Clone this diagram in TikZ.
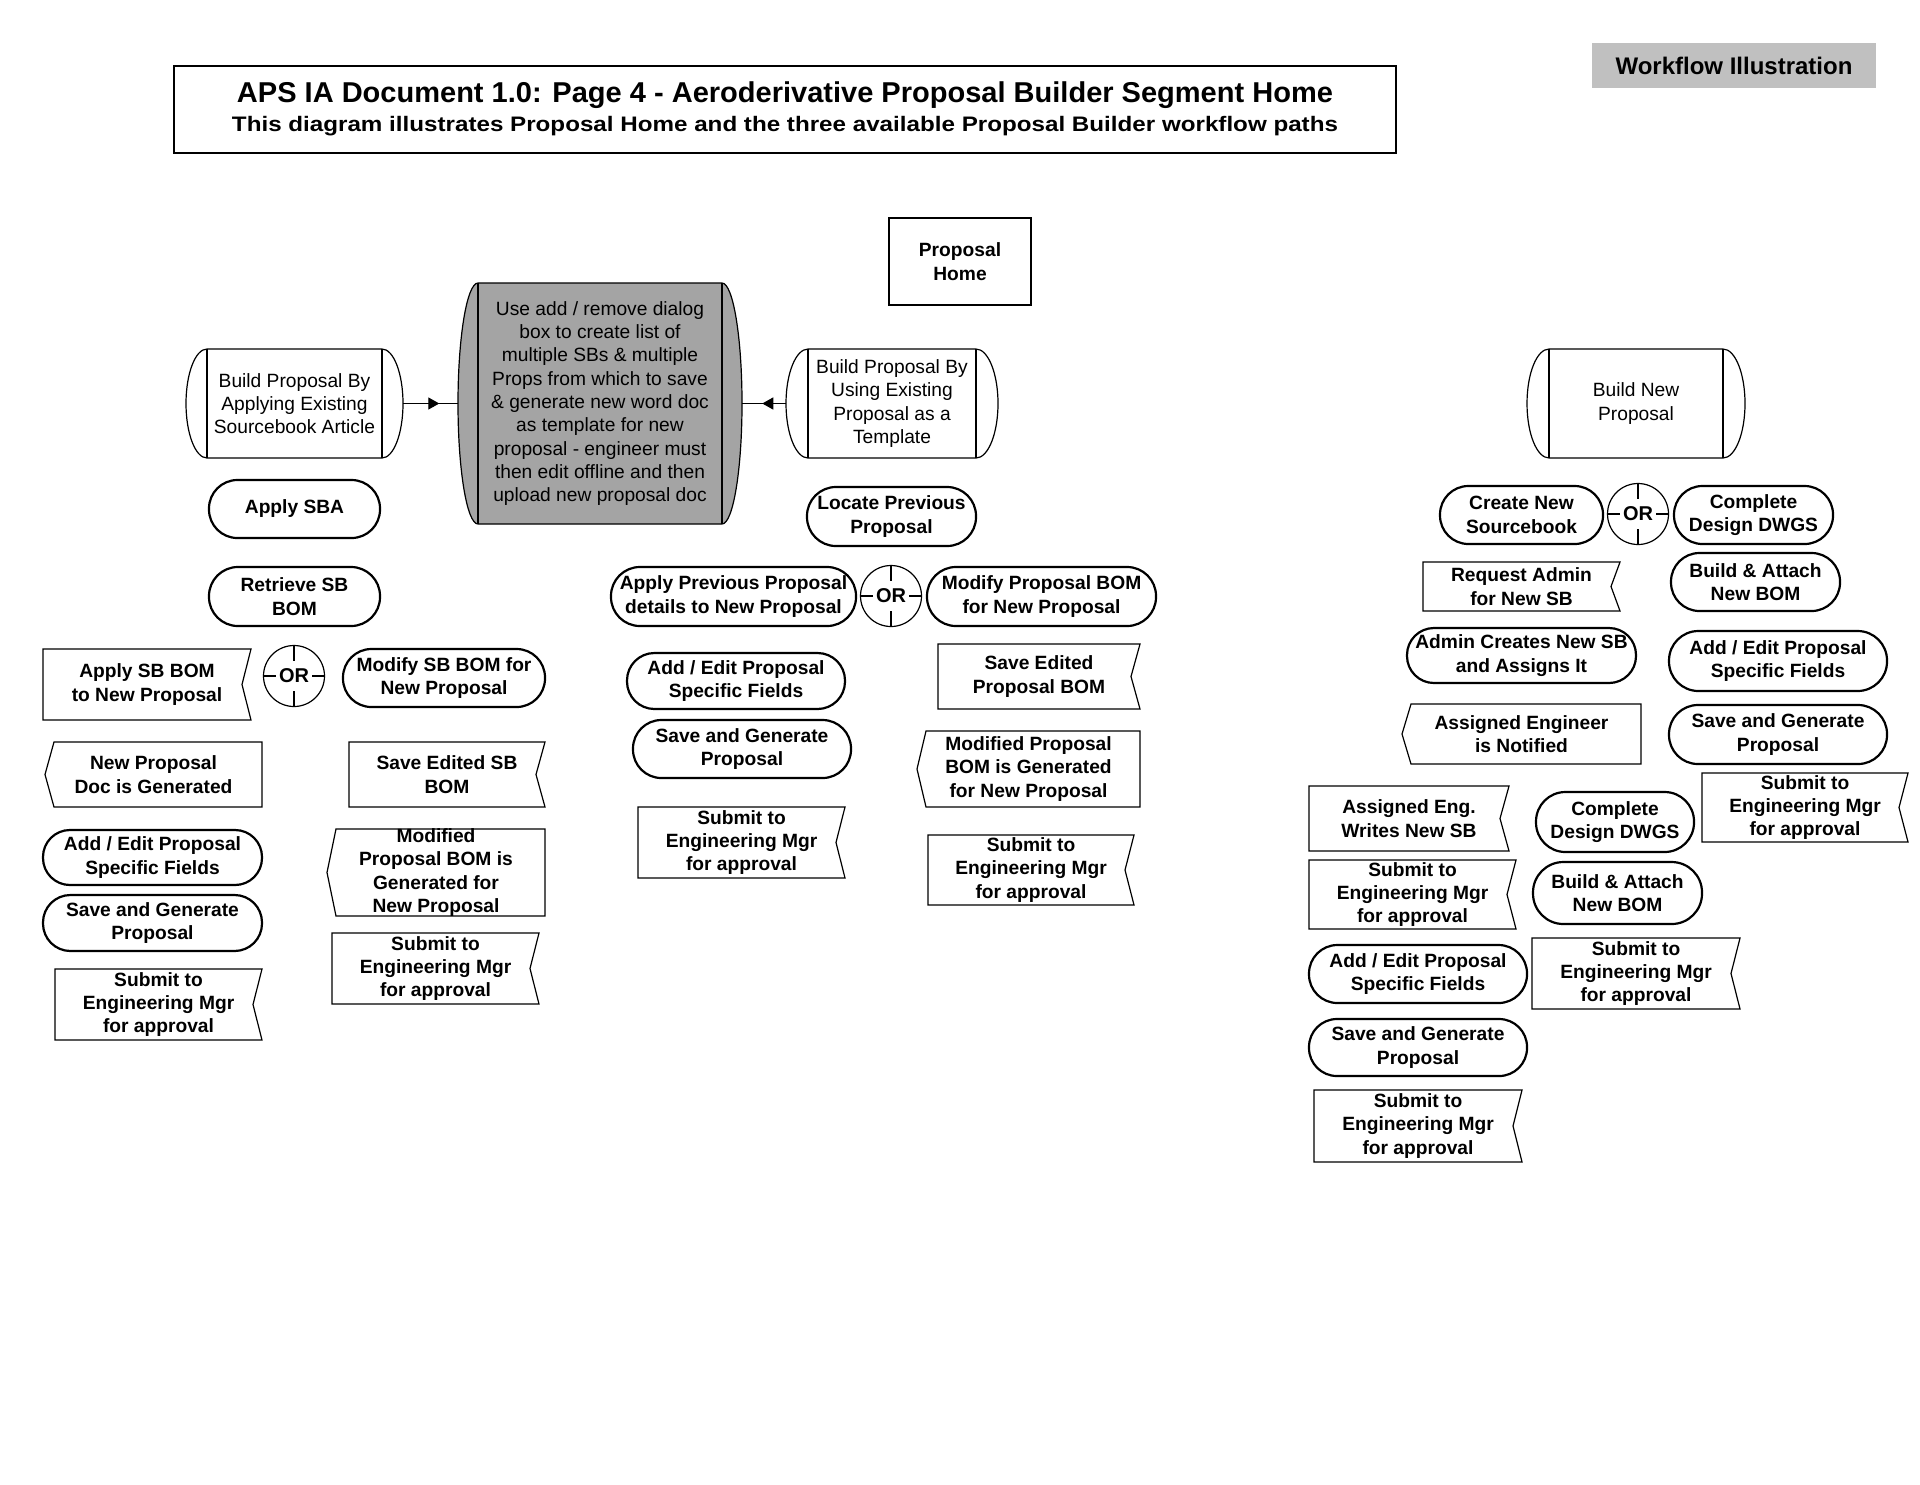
\documentclass[tikz,border=0pt]{standalone}
\usepackage{fontspec}
\setmainfont{Liberation Sans}
\usepackage{graphicx}
\usetikzlibrary{arrows.meta,decorations.markings}
\definecolor{wfgray}{HTML}{C0C0C0}
\definecolor{boxgray}{HTML}{A4A4A4}
\tikzset{
  txt/.style={inner sep=0pt, outer sep=0pt, align=center, font=\fontsize{9.6pt}{11.65pt}\selectfont\bfseries},
  txtr/.style={inner sep=0pt, outer sep=0pt, align=center, font=\fontsize{9.6pt}{11.65pt}\selectfont},
  thinline/.style={line width=0.6pt, draw=black},
  thickline/.style={line width=1.1pt, draw=black},
  midarrow/.style={postaction={decorate, decoration={markings, mark=at position #1 with {\arrow{Triangle[length=5.5pt,width=6pt]}}}}},
}
% stadium: name x1 y1 x2 y2 text
\newcommand\stad[6]{%
  \pgfmathsetmacro\Srad{(#5-#3)*0.245}%
  \draw[thickline, rounded corners=\Srad pt] (#2,#3) rectangle (#4,#5);
  \node[txt] (#1) at ({(#2+#4)/2},{(#3+#5)/2}) {#6};}
% flag with notch on right
\newcommand\flagR[6]{%
  \draw[thinline] (#2,#3) -- (#4,#3) -- (#4-9,{(#3+#5)/2}) -- (#4,#5) -- (#2,#5) -- cycle;
  \node[txt] (#1) at ({(#2+#4)/2},{(#3+#5)/2}) {#6};}
% flag with point on left
\newcommand\flagL[6]{%
  \draw[thinline] (#2+9,#3) -- (#4,#3) -- (#4,#5) -- (#2+9,#5) -- (#2,{(#3+#5)/2}) -- cycle;
  \node[txt] (#1) at ({(#2+#4)/2},{(#3+#5)/2}) {#6};}
% drum: name x1 y1 x2 y2 bulge fill text
\newcommand\drum[8]{%
  \pgfmathsetmacro\Dry{(#5-#3)*0.25}%
  \pgfmathsetmacro\Drx{#6*0.5}%
  \filldraw[thinline, fill=#7] (#2+#6,#3) -- (#4-#6,#3)
     arc[start angle=90, end angle=-90, x radius=\Drx pt, y radius=\Dry pt]
     -- (#2+#6,#5)
     arc[start angle=270, end angle=90, x radius=\Drx pt, y radius=\Dry pt] -- cycle;
  \draw[thinline] (#2+#6,#3) -- (#2+#6,#5) (#4-#6,#3) -- (#4-#6,#5);
  \node[txtr, minimum width={(#4-#2)*0.5pt}, minimum height={(#5-#3)*0.5pt}] (#1) at ({(#2+#4)/2},{(#3+#5)/2}) {#8};}
% OR circle
\newcommand\orc[3]{%
  \node[circle, thinline, draw, minimum size=30.5pt, inner sep=0pt, font=\fontsize{10pt}{12pt}\selectfont\bfseries] (#1) at (#2,#3) {OR};
  \draw[thinline] (#1.north) -- ++(0,16) (#1.south) -- ++(0,-16) (#1.west) -- ++(13,0) (#1.east) -- ++(-13,0);}
\newcommand\subtxt{Submit to\\Engineering Mgr\\for approval}

\begin{document}
\begin{tikzpicture}[x=0.5pt, y=-0.5pt]
\useasboundingbox (0,0) rectangle (1920,1484);
\fill[white] (0,0) rectangle (1920,1484);

% title
\node[draw, line width=0.8pt, minimum width=611pt, minimum height=43.5pt, inner sep=0pt] (titlebox) at (785,109.5) {};
\node[inner sep=0pt] (title1) at (785,95) {\resizebox{548pt}{10.4pt}{\bfseries APS IA Document 1.0: Page 4 - Aeroderivative Proposal Builder Segment Home}};
\node[inner sep=0pt] (title2) at (785,126) {\resizebox{553pt}{7.6pt}{\bfseries This diagram illustrates Proposal Home and the three available Proposal Builder workflow paths}};
\node[fill=wfgray, minimum width=142pt, minimum height=22.5pt, inner sep=0pt, font=\fontsize{12pt}{14pt}\selectfont\bfseries] (wf) at (1734,65.5) {Workflow Illustration};

% proposal home
\node[txt, thinline, draw, minimum width=71pt, minimum height=43.5pt] (home) at (960,261.5) {Proposal\\Home};

% drums
\drum{applyart}{186}{349}{403}{458}{21}{white}{Build Proposal By\\Applying Existing\\Sourcebook Article}
\drum{gray}{458}{283}{742}{524}{20}{boxgray}{Use add / remove dialog\\box to create list of\\multiple SBs \& multiple\\Props from which to save\\\& generate new word doc\\as template for new\\proposal - engineer must\\then edit offline and then\\upload new proposal doc}
\drum{useprop}{786}{349}{998}{458}{22}{white}{Build Proposal By\\Using Existing\\Proposal as a\\Template}
\drum{buildnew}{1527}{349}{1745}{458}{22}{white}{Build New\\Proposal}

\draw[thinline, midarrow=0.66] (applyart) -- (gray);
\draw[thinline, midarrow=0.54] (useprop) -- (gray);

% left column
\stad{apsba}{209}{480}{380}{538}{Apply SBA}
\stad{retsb}{209}{567}{380}{626}{Retrieve SB\\BOM}
\flagR{applysb}{43}{649}{251}{720}{Apply SB BOM\\to New Proposal}
\orc{orA}{294}{676}
\stad{modsb}{343}{649}{545}{707}{Modify SB BOM for\\New Proposal}
\flagL{newdoc}{45}{742}{262}{807}{New Proposal\\Doc is Generated}
\flagR{savesb}{349}{742}{545}{807}{Save Edited SB\\BOM}
\stad{addl}{43}{830}{262}{885}{Add / Edit Proposal\\Specific Fields}
\flagL{modgenl}{327}{829}{545}{916}{Modified\\Proposal BOM is\\Generated for\\New Proposal}
\stad{savel}{43}{895}{262}{951}{Save and Generate\\Proposal}
\flagR{subla}{55}{969}{262}{1040}{\subtxt}
\flagR{sublb}{332}{933}{539}{1004}{\subtxt}

% middle column
\stad{locprev}{807}{487}{976}{546}{Locate Previous\\Proposal}
\stad{appprev}{611}{567}{856}{626}{Apply Previous Proposal\\details to New Proposal}
\orc{orB}{891}{596}
\stad{modprop}{927}{567}{1156}{626}{Modify Proposal BOM\\for New Proposal}
\stad{addm}{627}{653}{845}{709}{Add / Edit Proposal\\Specific Fields}
\flagR{saveprop}{938}{644}{1140}{709}{Save Edited\\Proposal BOM}
\stad{savem}{633}{720}{851}{778}{Save and Generate\\Proposal}
\flagL{modgenm}{917}{731}{1140}{807}{Modified Proposal\\BOM is Generated\\for New Proposal}
\flagR{subma}{638}{807}{845}{878}{\subtxt}
\flagR{submb}{928}{835}{1134}{905}{\subtxt}

% right section
\stad{createsb}{1440}{486}{1603}{544}{Create New\\Sourcebook}
\orc{orC}{1638}{514}
\stad{dwgsa}{1674}{486}{1833}{544}{Complete\\Design DWGS}
\flagR{reqadmin}{1423}{562}{1620}{611}{Request Admin\\for New SB}
\stad{boma}{1671}{553}{1840}{611}{Build \& Attach\\New BOM}
\stad{admin}{1407}{628}{1636}{683}{Admin Creates New SB\\and Assigns It}
\stad{addr}{1669}{631}{1887}{691}{Add / Edit Proposal\\Specific Fields}
\flagL{notified}{1402}{704}{1641}{764}{Assigned Engineer\\is Notified}
\stad{saver}{1669}{705}{1887}{764}{Save and Generate\\Proposal}
\flagR{subra}{1702}{773}{1908}{842}{\subtxt}
\flagR{writes}{1309}{786}{1509}{851}{Assigned Eng.\\Writes New SB}
\stad{dwgsb}{1536}{792}{1694}{852}{Complete\\Design DWGS}
\flagR{subrb}{1309}{860}{1516}{929}{\subtxt}
\stad{bomb}{1533}{862}{1702}{924}{Build \& Attach\\New BOM}
\stad{addb}{1309}{945}{1527}{1003}{Add / Edit Proposal\\Specific Fields}
\flagR{subrc}{1532}{938}{1740}{1009}{\subtxt}
\stad{saveb}{1309}{1019}{1527}{1076}{Save and Generate\\Proposal}
\flagR{subrd}{1314}{1090}{1522}{1162}{\subtxt}
\end{tikzpicture}
\end{document}
